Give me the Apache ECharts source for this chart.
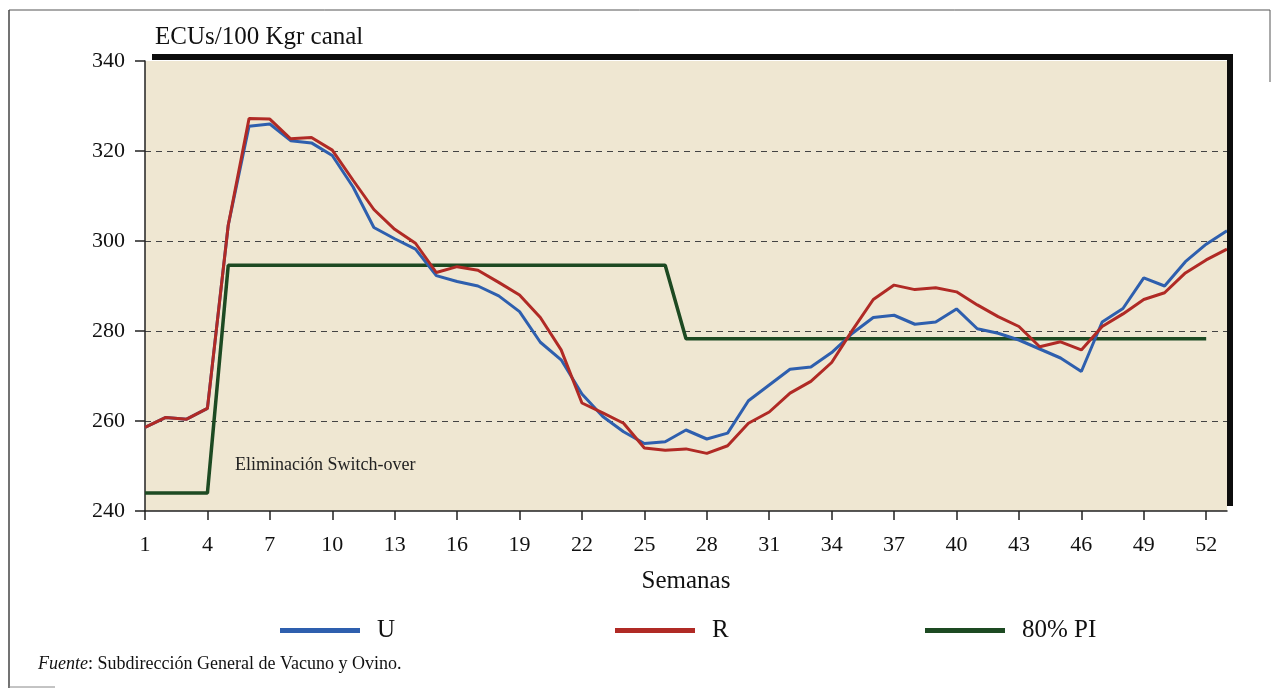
<!DOCTYPE html>
<html>
<head>
<meta charset="utf-8">
<script src="https://cdn.jsdelivr.net/npm/echarts@6/dist/echarts.min.js"></script>
<style>
  html, body { margin: 0; padding: 0; background: #fff; }
  #chart { width: 1271px; height: 688px; }
</style>
</head>
<body>
<div id="chart"></div>
<script>
// semanas 1..53
var semanas = [];
for (var i = 1; i <= 53; i++) semanas.push(String(i));

// precios U (ECUs/100 kg canal)
var serieU = [258.6, 260.8, 260.4, 262.8, 303.5, 325.5, 326, 322.3, 321.8, 319,
  312, 303, 300.5, 298.2, 292.3, 291, 290, 287.8, 284.3, 277.5,
  273.6, 266, 261, 257.6, 255, 255.4, 258, 256, 257.3, 264.5,
  268, 271.5, 272, 275.2, 279.5, 283, 283.5, 281.5, 282, 284.9,
  280.5, 279.5, 278, 276, 274, 271, 282, 285, 291.8, 290,
  295.4, 299.3, 302.3];

// precios R
var serieR = [258.6, 260.8, 260.4, 262.8, 303.5, 327.2, 327.1, 322.7, 323, 320.2,
  313.5, 307, 302.6, 299.5, 293, 294.3, 293.5, 290.8, 288, 283,
  275.8, 264, 261.8, 259.5, 254, 253.5, 253.8, 252.8, 254.5, 259.5,
  262, 266.2, 268.8, 273, 280.2, 287, 290.2, 289.2, 289.6, 288.7,
  285.8, 283.2, 281, 276.5, 277.6, 275.8, 281, 283.8, 287, 288.5,
  292.9, 295.8, 298.2];

// 80% precio de intervención
var seriePI = [244, 244, 244, 244, 294.6, 294.6, 294.6, 294.6, 294.6, 294.6,
  294.6, 294.6, 294.6, 294.6, 294.6, 294.6, 294.6, 294.6, 294.6, 294.6,
  294.6, 294.6, 294.6, 294.6, 294.6, 294.6, 278.3, 278.3, 278.3, 278.3,
  278.3, 278.3, 278.3, 278.3, 278.3, 278.3, 278.3, 278.3, 278.3, 278.3,
  278.3, 278.3, 278.3, 278.3, 278.3, 278.3, 278.3, 278.3, 278.3, 278.3,
  278.3, 278.3, null];

var yTicks = [240, 260, 280, 300, 320, 340];

var serif = '"Liberation Serif", "DejaVu Serif", serif';
var chart = echarts.init(document.getElementById('chart'));

// una leyenda por serie, para colocarlas como en el original
function leyenda(nombre, x) {
  return {
    left: x,
    top: 613,
    itemWidth: 80,
    itemHeight: 5,
    icon: 'rect',
    textStyle: { fontFamily: serif, fontSize: 25, color: '#111', padding: [0, 0, 0, 12] },
    data: [nombre]
  };
}

var option = {
  backgroundColor: '#fff',
  animation: false,
  textStyle: { fontFamily: serif },
  grid: {
    left: 145, top: 61, width: 1082, height: 450,
    show: true, backgroundColor: '#efe7d2', borderWidth: 0
  },
  xAxis: {
    type: 'category',
    data: semanas,
    boundaryGap: false,
    name: 'Semanas',
    nameLocation: 'middle',
    nameGap: 58,
    nameTextStyle: { fontFamily: serif, fontSize: 25, color: '#111' },
    axisLine: { lineStyle: { color: '#222', width: 1.5 } },
    axisTick: { interval: 2, length: 9, lineStyle: { color: '#222', width: 1.5 } },
    axisLabel: { interval: 2, margin: 23, fontFamily: serif, fontSize: 22, color: '#111' },
    splitLine: { show: false }
  },
  yAxis: {
    type: 'value',
    min: yTicks[0], max: yTicks[yTicks.length - 1], interval: 20,
    axisLine: { show: true, lineStyle: { color: '#222', width: 1.5 } },
    axisTick: { show: true, length: 10, lineStyle: { color: '#222', width: 1.5 } },
    axisLabel: {
      margin: 20, fontFamily: serif, fontSize: 22, color: '#111',
      formatter: function (v) { return yTicks.indexOf(v) >= 0 ? String(v) : ''; }
    },
    splitLine: {
      show: true,
      lineStyle: { color: '#444', type: [6, 5], width: 1.2 },
      showMinLine: false, showMaxLine: false
    }
  },
  legend: [leyenda('U', 275), leyenda('R', 610), leyenda('80% PI', 920)],
  series: [
    {
      name: 'U', type: 'line', data: serieU, symbol: 'none',
      lineStyle: { color: '#2e5fae', width: 3 }, itemStyle: { color: '#2e5fae' }, z: 3
    },
    {
      name: 'R', type: 'line', data: serieR, symbol: 'none',
      lineStyle: { color: '#b02a25', width: 3 }, itemStyle: { color: '#b02a25' }, z: 4
    },
    {
      name: '80% PI', type: 'line', data: seriePI, symbol: 'none',
      lineStyle: { color: '#1d4a22', width: 3.5 }, itemStyle: { color: '#1d4a22' }, z: 2
    }
  ],
  graphic: [
    // marco exterior
    { type: 'line', shape: { x1: 9, y1: 10, x2: 1270, y2: 10 }, style: { stroke: '#555', lineWidth: 1 } },
    { type: 'line', shape: { x1: 9, y1: 10, x2: 9, y2: 688 }, style: { stroke: '#444', lineWidth: 1.5 } },
    { type: 'line', shape: { x1: 1270, y1: 10, x2: 1270, y2: 82 }, style: { stroke: '#555', lineWidth: 1 } },
    { type: 'line', shape: { x1: 9, y1: 687, x2: 55, y2: 687 }, style: { stroke: '#888', lineWidth: 1 } },
    // bordes gruesos del gráfico
    { type: 'rect', shape: { x: 152, y: 54, width: 1081, height: 6 }, style: { fill: '#0d0d0d' }, z: 10 },
    { type: 'rect', shape: { x: 1227, y: 54, width: 6, height: 452 }, style: { fill: '#0d0d0d' }, z: 10 },
    {
      type: 'text', left: 155, top: 25,
      style: { text: 'ECUs/100 Kgr canal', font: '25px ' + serif, fill: '#111' }
    },
    {
      type: 'text', left: 235, top: 456, z: 10,
      style: { text: 'Eliminación Switch-over', font: '18px ' + serif, fill: '#222' }
    },
    {
      type: 'text', left: 38, top: 655,
      style: {
        rich: {
          i: { fontFamily: serif, fontStyle: 'italic', fontSize: 18, fill: '#111' },
          n: { fontFamily: serif, fontSize: 18, fill: '#111' }
        },
        text: '{i|Fuente}{n|: Subdirección General de Vacuno y Ovino.}'
      }
    }
  ]
};

chart.setOption(option);
</script>
</body>
</html>
